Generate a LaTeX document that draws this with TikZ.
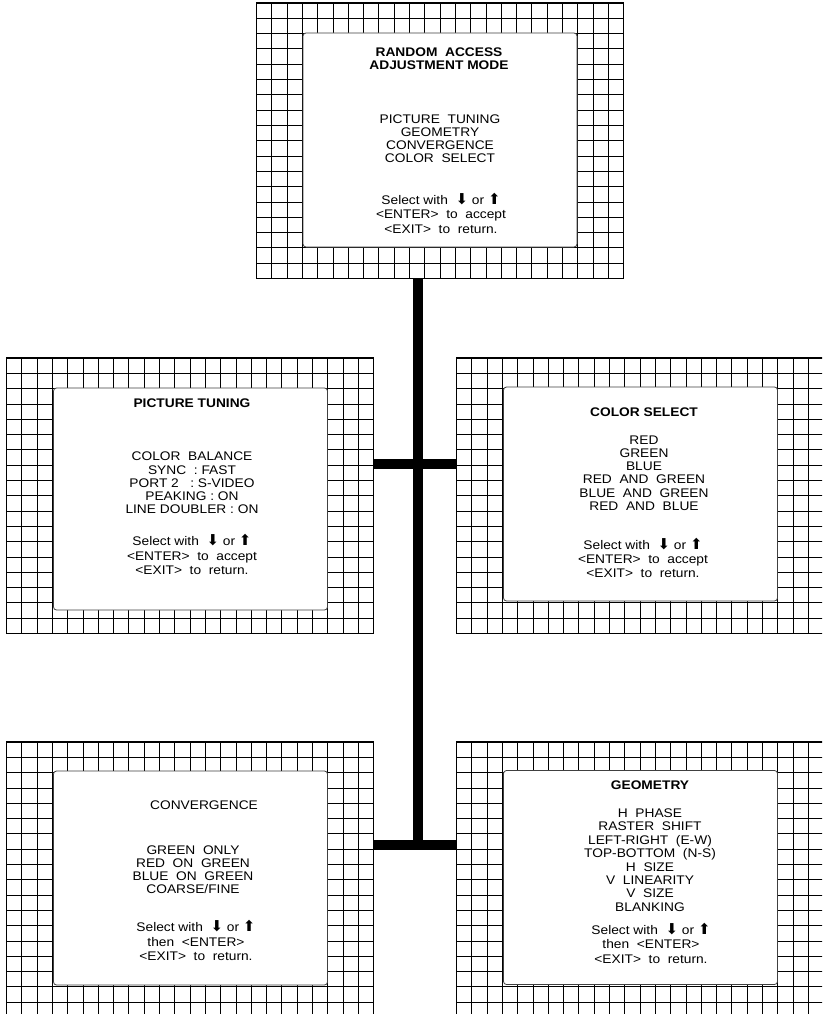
\documentclass[tikz,border=0pt]{standalone}
\usepackage{fontspec}
\setmainfont{Liberation Sans}[FakeStretch=1.1]
\newfontfamily\symfont{DejaVu Sans}
\newcommand{\arrdown}{{\symfont\fontsize{15}{13}\selectfont ⬇}}
\newcommand{\arrup}{{\symfont\fontsize{15}{13}\selectfont ⬆}}

\begin{document}
\begin{tikzpicture}[x=1pt, y=-1pt]
    \tikzstyle{frame} = [draw, line width=1.6pt, fill=white, inner sep=0pt, outer sep=0pt,
        minimum width=367.2pt, minimum height=275.4pt,
        path picture={\draw[line width=0.8pt]
            \foreach \i in {1,...,23} {([xshift={\i*15.3pt}]path picture bounding box.north west)
                -- ([xshift={\i*15.3pt}]path picture bounding box.south west)}
            \foreach \j in {1,...,17} {([yshift={-\j*15.3pt}]path picture bounding box.north west)
                -- ([yshift={-\j*15.3pt}]path picture bounding box.north east)};}]
    \tikzstyle{screen} = [draw=black!75, line width=0.8pt, fill=white, rounded corners=3pt, inner sep=0pt,
        minimum width=274pt, minimum height=214pt]
    \tikzstyle{menu} = [align=center, inner sep=0pt, font=\fontsize{12.5}{13.2}\selectfont]
    \tikzstyle{heading} = [menu, font=\fontsize{12.5}{13.2}\selectfont\bfseries]
    \tikzstyle{helptext} = [menu, font=\fontsize{12.5}{14.4}\selectfont]
    \tikzstyle{bar} = [line width=10pt]

    \useasboundingbox (0,0) rectangle (822,1014);
    \clip (0,0) rectangle (822,1014);

    % main menu
    \node (main) [frame] at (440,140.7) {};
    \node (main-scr) [screen] at (440,140) {};
    \node (main-title) [heading] at (439,58.5) {RANDOM\ \ ACCESS\\ADJUSTMENT MODE};
    \node (main-items) [menu] at (440,138.7) {PICTURE\ \ TUNING\\GEOMETRY\\CONVERGENCE\\COLOR\ \ SELECT};
    \node (main-help) [helptext] at (441,213.3) {Select with\ \ \arrdown\ or \arrup\\<ENTER>\ \ to\ \ accept\\<EXIT>\ \ to\ \ return.};

    % picture tuning
    \node (tuning) [frame] at (190,495.7) {};
    \node (tuning-scr) [screen, minimum height=222pt] at (190.5,499) {};
    \node (tuning-title) [heading] at (192,403) {PICTURE TUNING};
    \node (tuning-items) [menu] at (192,483) {COLOR\ \ BALANCE\\SYNC\ \ :\ FAST\\PORT 2\ \ \ :\ S-VIDEO\\PEAKING\ :\ ON\\LINE DOUBLER\ :\ ON};
    \node (tuning-help) [helptext] at (192,554.7) {Select with\ \ \arrdown\ or \arrup\\<ENTER>\ \ to\ \ accept\\<EXIT>\ \ to\ \ return.};

    % color select
    \node (colors) [frame] at (640,495.7) {};
    \node (colors-scr) [screen] at (640.5,494) {};
    \node (colors-title) [heading] at (644,412) {COLOR SELECT};
    \node (colors-items) [menu] at (644,473) {RED\\GREEN\\BLUE\\RED\ \ AND\ \ GREEN\\BLUE\ \ AND\ \ GREEN\\RED\ \ AND\ \ BLUE};
    \node (colors-help) [helptext] at (643,558) {Select with\ \ \arrdown\ or \arrup\\<ENTER>\ \ to\ \ accept\\<EXIT>\ \ to\ \ return.};

    % convergence
    \node (conv) [frame] at (190,879.7) {};
    \node (conv-scr) [screen] at (190.5,878) {};
    \node (conv-title) [menu] at (204,805) {CONVERGENCE};
    \node (conv-items) [menu] at (193,869.5) {GREEN\ \ ONLY\\RED\ \ ON\ \ GREEN\\BLUE\ \ ON\ \ GREEN\\COARSE/FINE};
    \node (conv-help) [helptext] at (196,940.5) {Select with\ \ \arrdown\ or \arrup\\then\ \ <ENTER>\\<EXIT>\ \ to\ \ return.};

    % geometry
    \node (geom) [frame] at (640,879.7) {};
    \node (geom-scr) [screen] at (640.5,877.5) {};
    \node (geom-title) [heading] at (650,785) {GEOMETRY};
    \node (geom-items) [menu, font=\fontsize{12.5}{13.4}\selectfont] at (650,860) {H\ \ PHASE\\RASTER\ \ SHIFT\\LEFT-RIGHT\ \ (E-W)\\TOP-BOTTOM\ \ (N-S)\\H\ \ SIZE\\V\ \ LINEARITY\\V\ \ SIZE\\BLANKING};
    \node (geom-help) [helptext] at (651,943) {Select with\ \ \arrdown\ or \arrup\\then\ \ <ENTER>\\<EXIT>\ \ to\ \ return.};

    % connecting bars
    \coordinate (upper) at (418,464);
    \coordinate (lower) at (418,845);
    \coordinate (trunk) at (418,850);
    \draw [bar] (trunk |- main.south) -- (trunk);
    \draw [bar] (tuning.east |- upper) -- (colors.west |- upper);
    \draw [bar] (conv.east |- lower) -- (geom.west |- lower);
\end{tikzpicture}
\end{document}
